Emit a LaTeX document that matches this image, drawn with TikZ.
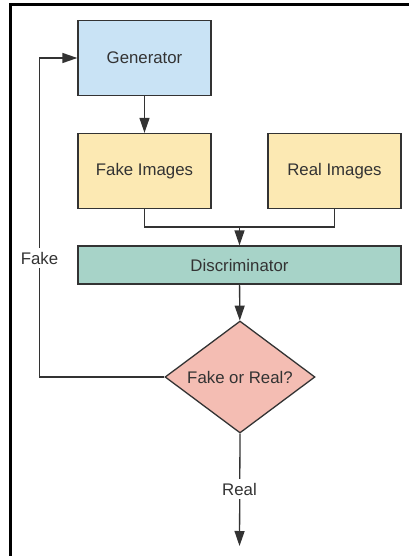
\documentclass[tikz,border=0pt]{standalone}
\usepackage{fontspec}
\setmainfont{Liberation Sans}
\usetikzlibrary{shapes.geometric,arrows.meta}

\definecolor{genblue}{HTML}{C9E3F5}
\definecolor{imgyellow}{HTML}{FCE9B3}
\definecolor{discteal}{HTML}{A7D3C8}
\definecolor{decsalmon}{HTML}{F4BDB3}
\definecolor{ink}{HTML}{333333}

\begin{document}
\begin{tikzpicture}[x=1pt,y=-1pt,
  every node/.style={font=\fontsize{16.8}{20}\selectfont, text=ink},
  box/.style={draw=ink, line width=1.3pt, minimum width=133pt, minimum height=75pt, inner sep=0pt},
  decision/.style={draw=ink, line width=1.3pt, diamond, fill=decsalmon, minimum width=150pt, minimum height=112pt, aspect=1.34, inner sep=0pt},
  flow/.style={draw=ink, line width=1.3pt},
  arrow/.style={flow, -{Triangle[length=15pt,width=10pt]}},
  tag/.style={fill=white, inner sep=4pt}]
\useasboundingbox (0,0) rectangle (409,556);
% frame on the left and top
\draw [black, line width=2.6pt] (10.5,556) -- (10.5,4.3) -- (409,4.3);
% blocks
\node [box, fill=genblue] (gen) at (144.5,58) {Generator};
\node [box, fill=imgyellow] (fake) at (144.5,171) {Fake Images};
\node [box, fill=imgyellow] (real) at (334.5,171) {Real Images};
\node [box, fill=discteal, minimum width=323pt, minimum height=38pt] (disc) at (239.5,265) {Discriminator};
\node [decision] (dec) at (240,377) {Fake or Real?};
\coordinate (join) at (239.5,227);
\coordinate (back) at (39.5,377);
\coordinate (out) at (239.5,546);
% connectors
\draw [arrow] (gen) -- (fake);
\draw [flow] (fake.south) |- (join) -| (real.south);
\draw [arrow] (join) -- (disc.north);
\draw [arrow] (disc) -- (dec);
\draw [arrow] (dec.west) -- (back) |- (gen.west);
\draw [arrow] (dec.south) -- (out);
% labels sitting on the lines
\node [tag] (lfake) at (39.5,258) {Fake};
\node [tag] (lreal) at (239.5,489) {Real};
\end{tikzpicture}
\end{document}
